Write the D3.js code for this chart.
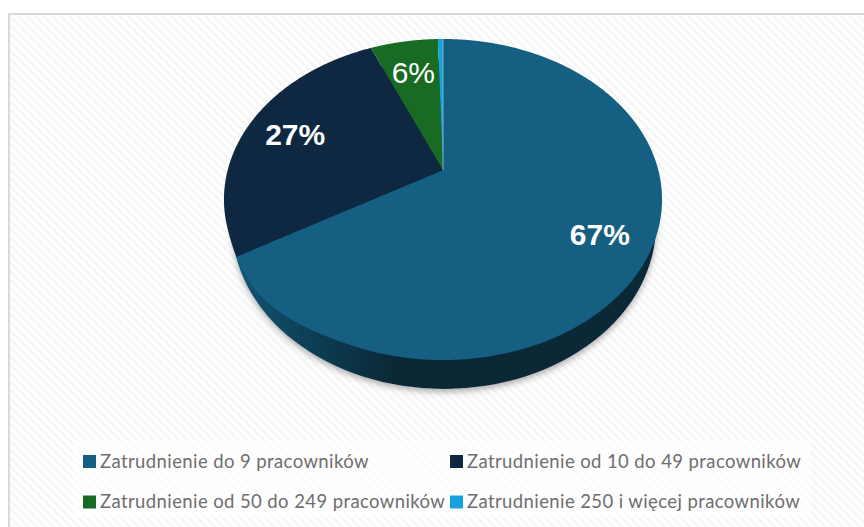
<!DOCTYPE html>
<html>
<head>
<meta charset="utf-8">
<script src="https://cdn.jsdelivr.net/npm/d3@7"></script>
<style>
  html, body { margin: 0; padding: 0; background: #fff; }
  svg { display: block; }
</style>
</head>
<body>
<div id="chart"></div>
<script>
var categories = [
  "Zatrudnienie do 9 pracowników",
  "Zatrudnienie od 10 do 49 pracowników",
  "Zatrudnienie od 50 do 249 pracowników",
  "Zatrudnienie 250 i więcej pracowników"
];
var shares = [66.6, 27.0, 5.95, 0.45];
var colors = ["#156082", "#0e2841", "#196b24", "#15a3dc"];
var shownLabels = [true, true, true, false];

var w = 864, h = 527;

var svg = d3.select("#chart").append("svg")
  .attr("width", w)
  .attr("height", h);

var defs = svg.append("defs");

// hatch background
var hatch = defs.append("pattern")
  .attr("id", "hatch")
  .attr("width", 6)
  .attr("height", 6)
  .attr("patternUnits", "userSpaceOnUse")
  .attr("patternTransform", "rotate(-45)");
hatch.append("rect").attr("width", 6).attr("height", 6).attr("fill", "#ffffff");
hatch.append("rect").attr("width", 3).attr("height", 6).attr("fill", "#f6f6f6");

// wall shading, lighter on the left
var wallGrad = defs.append("linearGradient").attr("id", "wallGrad");
wallGrad.append("stop").attr("offset", "0.02").attr("stop-color", "#115372");
wallGrad.append("stop").attr("offset", "0.18").attr("stop-color", "#0d3f56");
wallGrad.append("stop").attr("offset", "0.38").attr("stop-color", "#0a2836");
wallGrad.append("stop").attr("offset", "1").attr("stop-color", "#0a2836");

var blur = defs.append("filter").attr("id", "soft")
  .attr("x", "-10%").attr("y", "-10%").attr("width", "120%").attr("height", "120%");
blur.append("feGaussianBlur").attr("stdDeviation", 3);

// frame
svg.append("rect")
  .attr("x", 9).attr("y", 14)
  .attr("width", 860).attr("height", 520)
  .attr("fill", "url(#hatch)")
  .attr("stroke", "#d9d9d9")
  .attr("stroke-width", 2);

// perspective of the pie top: circle -> screen
var cx = 443, apexY = 170;
var k = 0.1838, sx = 215.3, sy = 155.1;

function project(a, r) {
  var px = Math.sin(a) * r;
  var py = -Math.cos(a) * r;
  var d = 1 - k * py;
  return [cx + sx * px / d, apexY + sy * py / d];
}

// the top face bulges a little at the lower left
var bulgeFrom = 200 * Math.PI / 180, bulgeTo = 250 * Math.PI / 180;
function rimRadius(a) {
  if (a < bulgeFrom || a > bulgeTo) return 1;
  var s = Math.sin((a - bulgeFrom) / (bulgeTo - bulgeFrom) * Math.PI);
  return 1 + 0.02 * s * s;
}

var pie = d3.pie().sort(null);
var arcs = pie(shares);
var line = d3.line();

function slicePath(d) {
  var pts = [[cx, apexY]];
  for (var a = d.startAngle; a <= d.endAngle; a += 0.005) {
    pts.push(project(a, rimRadius(a)));
  }
  pts.push(project(d.endAngle, rimRadius(d.endAngle)));
  return line(pts) + "Z";
}

// bottom outline of the pie, the top face covers most of it
function bottomEllipse(g) {
  return g.append("ellipse")
    .attr("cx", 444)
    .attr("cy", 224.5)
    .attr("rx", 212)
    .attr("ry", 164.5);
}

bottomEllipse(svg)
  .attr("fill", "#777")
  .attr("opacity", 0.6)
  .attr("filter", "url(#soft)")
  .attr("transform", "translate(0,3)");

bottomEllipse(svg)
  .attr("fill", "url(#wallGrad)");

svg.selectAll("path.slice")
  .data(arcs)
  .enter()
  .append("path")
  .attr("class", "slice")
  .attr("d", slicePath)
  .attr("fill", function (d, i) { return colors[i]; });

// thin light edge at 12 o'clock
svg.append("path")
  .attr("d", line([[cx, apexY], project(0, 1)]))
  .attr("stroke", "#7fb0c6")
  .attr("stroke-width", 1)
  .attr("fill", "none");

// labels
var labelR = [0.78, 0.755, 0.73, 0];

function labelPos(d) {
  return project((d.startAngle + d.endAngle) / 2, labelR[d.index]);
}

svg.selectAll("text.pct")
  .data(arcs.filter(function (d, i) { return shownLabels[i]; }))
  .enter()
  .append("text")
  .attr("class", "pct")
  .attr("x", function (d) { return labelPos(d)[0]; })
  .attr("y", function (d) { return labelPos(d)[1]; })
  .attr("dy", "0.35em")
  .attr("text-anchor", "middle")
  .attr("font-family", "Liberation Sans")
  .attr("font-size", 30)
  .attr("font-weight", function (d) { return d.index === 2 ? "normal" : "bold"; })
  .attr("fill", "#fff")
  .text(function (d) { return Math.round(d.value) + "%"; });

// legend
svg.append("rect")
  .attr("x", 73).attr("y", 440)
  .attr("width", 738).attr("height", 78)
  .attr("fill", "#fff")
  .attr("opacity", 0.7);

var legendX = [83, 450, 83, 450];
var legendY = [461.5, 461.5, 502, 502];

var legend = svg.selectAll("g.legend")
  .data(categories)
  .enter()
  .append("g")
  .attr("class", "legend")
  .attr("transform", function (d, i) {
    return "translate(" + legendX[i] + "," + legendY[i] + ")";
  });

legend.append("rect")
  .attr("y", -6.5)
  .attr("width", 13)
  .attr("height", 13)
  .attr("fill", function (d, i) { return colors[i]; });

legend.append("text")
  .attr("x", 17)
  .attr("y", 0)
  .attr("dy", "0.35em")
  .attr("font-family", "Lato")
  .attr("font-size", 18.5)
  .attr("letter-spacing", 0.4)
  .attr("fill", "#6e6e6e")
  .text(function (d) { return d; });
</script>
</body>
</html>
